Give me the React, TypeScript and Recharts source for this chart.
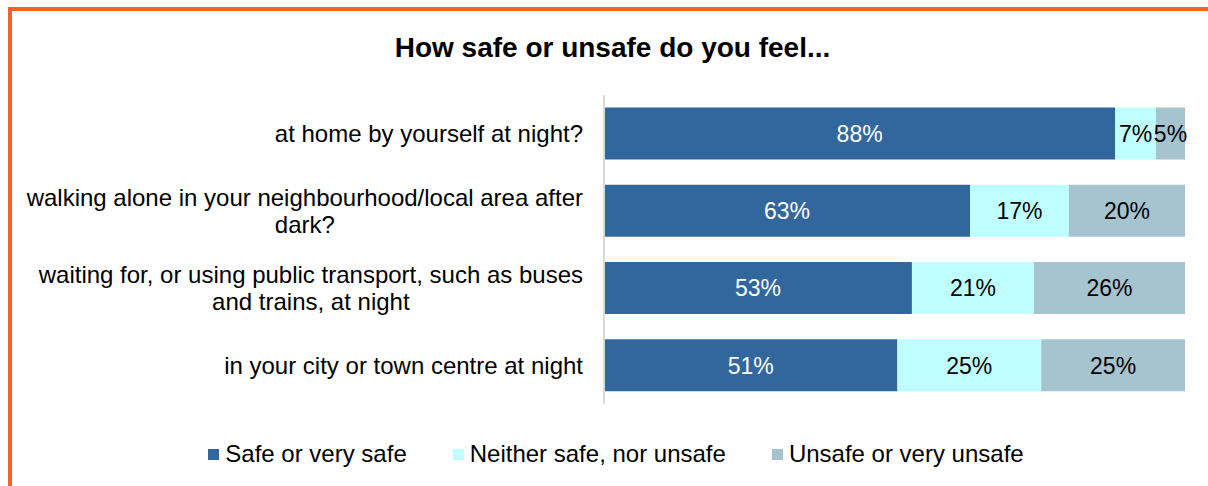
import React from "react";
import { BarChart, Bar, XAxis, YAxis, LabelList, Legend } from "recharts";

const categories = [
  "at home by yourself at night?",
  "walking alone in your neighbourhood/local area after dark?",
  "waiting for, or using public transport, such as buses and trains, at night",
  "in your city or town centre at night",
];
const safeValues = [88, 63, 53, 51];
const neitherValues = [7, 17, 21, 25];
const unsafeValues = [5, 20, 26, 25];
const seriesNames = ["Safe or very safe", "Neither safe, nor unsafe", "Unsafe or very unsafe"];
const seriesColors = ["#32679E", "#BFFFFF", "#A5C4D0"];

const data = categories.map((c, i) => ({
  category: c,
  safe: safeValues[i],
  neither: neitherValues[i],
  unsafe: unsafeValues[i],
}));

const FONT = "'Liberation Sans', Arial, sans-serif";

let ctx: CanvasRenderingContext2D | null = null;
const measure = (s: string) => {
  if (!ctx) {
    const c = document.createElement("canvas");
    ctx = c.getContext("2d");
  }
  if (!ctx) return s.length * 12;
  ctx.font = `24px ${FONT}`;
  return ctx.measureText(s).width;
};

const wrap = (s: string, maxW: number) => {
  const words = s.split(" ");
  const lines: string[] = [];
  let cur = "";
  for (const w of words) {
    const t = cur ? cur + " " + w : w;
    if (cur && measure(t) > maxW) {
      lines.push(cur);
      cur = w;
    } else {
      cur = t;
    }
  }
  if (cur) lines.push(cur);
  return lines;
};

const YTick = (props: any) => {
  const { x, y, payload } = props;
  const lines = wrap(String(payload.value), 565);
  const maxW = Math.max(...lines.map(measure));
  const cx = x - 21 - maxW / 2;
  const lh = 27;
  const start = -((lines.length - 1) * lh) / 2;
  return (
    <text x={cx} y={y} textAnchor="middle" fill="#000" style={{ fontSize: 24, fontFamily: FONT }}>
      {lines.map((l, i) => (
        <tspan key={i} x={cx} y={y + start + i * lh} dy="0.35em">
          {l}
        </tspan>
      ))}
    </text>
  );
};

const LegendContent = () => (
  <div
    style={{
      display: "flex",
      justifyContent: "center",
      alignItems: "center",
      fontFamily: FONT,
      fontSize: 24,
      color: "#000",
      paddingLeft: 24,
    }}
  >
    {seriesNames.map((n, i) => (
      <div key={n} style={{ display: "flex", alignItems: "center", marginRight: i < 2 ? 46 : 0 }}>
        <span
          style={{
            display: "inline-block",
            width: 11,
            height: 11,
            background: seriesColors[i],
            marginRight: 6,
          }}
        />
        <span>{n}</span>
      </div>
    ))}
  </div>
);

const fmt = (v: any) => `${v}%`;

export default function App() {
  return (
    <div style={{ position: "absolute", left: 0, top: 0, width: 1208, height: 486, background: "#fff", overflow: "hidden" }}>
      <div
        style={{
          position: "absolute",
          left: 8,
          top: 7,
          width: 1210,
          height: 490,
          borderLeft: "4px solid #F4622B",
          borderTop: "4px solid #F4622B",
        }}
      />
      <div
        style={{
          position: "absolute",
          left: 0,
          top: 31,
          width: 1225,
          textAlign: "center",
          fontFamily: FONT,
          fontWeight: "bold",
          fontSize: 28,
          lineHeight: "34px",
          color: "#000",
        }}
      >
        How safe or unsafe do you feel...
      </div>
      <div style={{ position: "absolute", left: 0, top: 0 }}>
        <BarChart
          width={1208}
          height={486}
          data={data}
          layout="vertical"
          stackOffset="expand"
          barCategoryGap="16.3%"
          margin={{ top: 95, right: 23, bottom: 82, left: 0 }}
        >
          <XAxis type="number" hide domain={[0, 1]} />
          <YAxis
            type="category"
            dataKey="category"
            width={604}
            tickLine={false}
            tickSize={0}
            tickMargin={0}
            axisLine={{ stroke: "#D9D9D9", strokeWidth: 2 }}
            tick={<YTick />}
            interval={0}
          />
          <Legend
            layout="horizontal"
            verticalAlign="middle"
            align="center"
            content={<LegendContent />}
            wrapperStyle={{ top: 440, left: 0, width: 1208 }}
          />
          <Bar dataKey="safe" stackId="a" fill={seriesColors[0]} isAnimationActive={false}>
            <LabelList dataKey="safe" position="center" formatter={fmt} fill="#fff" style={{ fontSize: 23, fontFamily: FONT }} />
          </Bar>
          <Bar dataKey="neither" stackId="a" fill={seriesColors[1]} isAnimationActive={false}>
            <LabelList dataKey="neither" position="center" formatter={fmt} fill="#000" style={{ fontSize: 23, fontFamily: FONT }} />
          </Bar>
          <Bar dataKey="unsafe" stackId="a" fill={seriesColors[2]} isAnimationActive={false}>
            <LabelList dataKey="unsafe" position="center" formatter={fmt} fill="#000" style={{ fontSize: 23, fontFamily: FONT }} />
          </Bar>
        </BarChart>
      </div>
    </div>
  );
}
